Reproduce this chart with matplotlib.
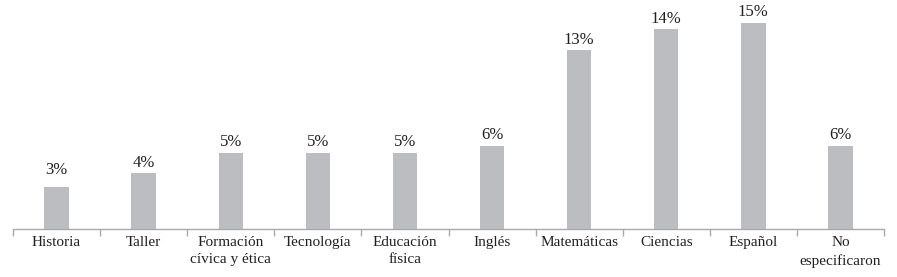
import numpy as np
import matplotlib
matplotlib.use("Agg")
import matplotlib.pyplot as plt

# datos
materias = ['Historia', 'Taller', 'Formación\ncívica y ética', 'Tecnología',
            'Educación\nfísica', 'Inglés', 'Matemáticas', 'Ciencias',
            'Español', 'No\nespecificaron']
porcentajes = [3.0, 4.0, 5.45, 5.45, 5.45, 6.0, 12.85, 14.35, 14.85, 6.0]
etiquetas = ['3%', '4%', '5%', '5%', '5%', '6%', '13%', '14%', '15%', '6%']

plt.rcParams['font.family'] = ['Liberation Serif', 'DejaVu Serif']
texto = '#231f20'
gris_barra = '#bcbdc0'
gris_eje = '#a7a9ac'

fig = plt.figure(figsize=(8.97, 2.77), dpi=100)
ax = fig.add_axes([13 / 897, 48 / 277, 871 / 897, 229 / 277])

x = np.arange(len(materias))
ax.bar(x, porcentajes, width=0.28, color=gris_barra)

for i, (xi, v, lab) in enumerate(zip(x, porcentajes, etiquetas)):
    # en el original la etiqueta de Historia queda algo más separada
    sep = 7 if i == 0 else 2
    ax.annotate(lab, (xi, v), xytext=(0, sep), textcoords='offset points',
                ha='center', va='bottom', fontsize=12, color=texto)

ax.set_xlim(-0.5, len(materias) - 0.5)
ax.set_ylim(0, 16.47)

ax.set_xticks(x)
ax.set_xticklabels(materias, fontsize=11, color=texto, linespacing=1.45)
ax.tick_params(axis='x', which='major', length=0, pad=5)
ax.set_xticks(np.arange(len(materias) + 1) - 0.5, minor=True)
ax.tick_params(axis='x', which='minor', length=5, direction='out', color=gris_eje, width=1)
ax.set_yticks([])

for s in ['top', 'right', 'left']:
    ax.spines[s].set_visible(False)
ax.spines['bottom'].set_color(gris_eje)
ax.spines['bottom'].set_linewidth(1)

fig.savefig('out.png', dpi=100)
